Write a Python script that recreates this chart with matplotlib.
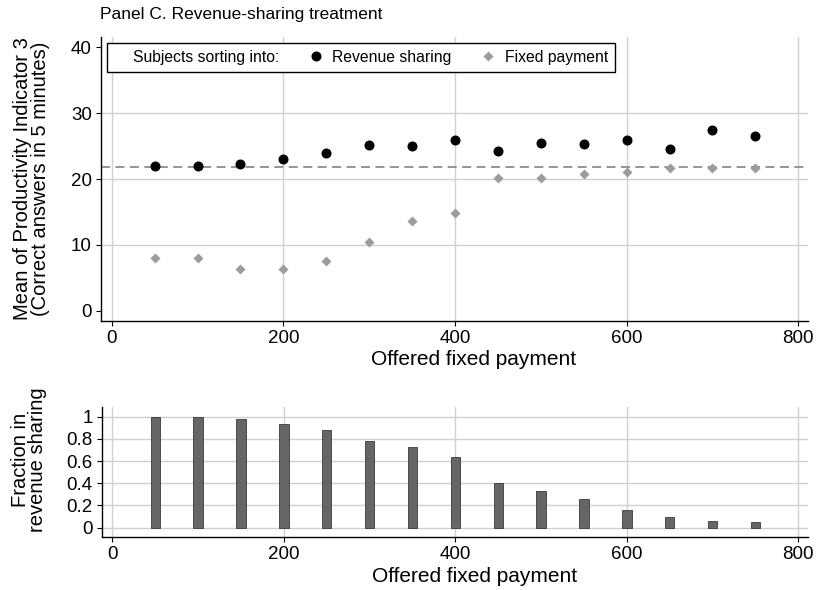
import numpy as np
import matplotlib
matplotlib.use("Agg")
import matplotlib.pyplot as plt
from matplotlib.lines import Line2D
from matplotlib.ticker import FormatStrFormatter

plt.rcParams['font.family'] = ['Liberation Sans', 'DejaVu Sans']

# offered fixed payment levels
offers = np.arange(50, 800, 50)

# mean productivity (correct answers in 5 minutes)
prod_revenue = [22.0, 22.0, 22.3, 23.1, 23.9, 25.2, 25.0, 25.9, 24.3, 25.4, 25.3, 26.0, 24.6, 27.5, 26.6]
prod_fixed = [8.0, 8.0, 6.3, 6.3, 7.6, 10.5, 13.6, 14.9, 20.2, 20.1, 20.7, 21.1, 21.6, 21.6, 21.7]
overall_mean = 21.9

# fraction choosing revenue sharing
frac_revenue = [1.0, 1.0, 0.98, 0.93, 0.88, 0.78, 0.73, 0.64, 0.40, 0.33, 0.26, 0.16, 0.10, 0.06, 0.05]

grid_col = '#d0d0d0'
fs_tick = 13.5
fs_label = 15

fig = plt.figure(figsize=(8.17, 5.90), dpi=100)
ax1 = fig.add_axes([0.1236, 0.4564, 0.8657, 0.4814])
ax2 = fig.add_axes([0.1245, 0.0893, 0.8648, 0.2214])

# --- top panel
ax1.axhline(overall_mean, color='#8c8c8c', lw=1.3, dashes=(5, 3), zorder=2)
ax1.plot(offers, prod_revenue, 'o', color='black', ms=6.2, zorder=3, label='Revenue sharing')
ax1.plot(offers, prod_fixed, 'D', color='#9c9c9c', ms=5.0, mec='none', zorder=3, label='Fixed payment')
ax1.set_xlim(-12.5, 811.6)
ax1.set_ylim(-1.5, 41.6)
ax1.set_yticks([0, 10, 20, 30, 40])
ax1.set_xticks([0, 200, 400, 600, 800])
for v in [10, 20, 30]:
    ax1.axhline(v, color=grid_col, lw=1, zorder=1)
for v in [0, 200, 400, 600, 800]:
    ax1.axvline(v, color=grid_col, lw=1, zorder=1)
ax1.set_xlabel('Offered fixed payment', fontsize=fs_label)
ax1.xaxis.set_label_coords(0.527, -0.103)
ax1.set_ylabel('Mean of Productivity Indicator 3\n(Correct answers in 5 minutes)',
               fontsize=14.5, linespacing=0.92)
ax1.yaxis.set_label_coords(-0.072, 0.5)

blank = Line2D([], [], linestyle='none')
h_rev = Line2D([], [], marker='o', color='black', ms=6.2, linestyle='none')
h_fix = Line2D([], [], marker='D', color='#9c9c9c', ms=5.0, mec='none', linestyle='none')
leg = ax1.legend([blank, h_rev, h_fix], ['Subjects sorting into:', 'Revenue sharing', 'Fixed payment'],
                 ncol=3, loc='upper left', bbox_to_anchor=(0.008, 0.979), borderaxespad=0,
                 fontsize=11.3, handlelength=0.3, handletextpad=0.9, columnspacing=2.2,
                 borderpad=0.45, fancybox=False, framealpha=1, edgecolor='black')
leg.get_frame().set_linewidth(1.0)
leg.set_zorder(5)

# --- bottom panel
ax2.bar(offers, frac_revenue, width=11, color='#666666', edgecolor='#3a3a3a', linewidth=0.6, zorder=3)
ax2.set_xlim(-12.5, 811.6)
ax2.set_ylim(-0.087, 1.09)
ax2.set_xticks([0, 200, 400, 600, 800])
ax2.set_yticks([0, 0.2, 0.4, 0.6, 0.8, 1.0])
ax2.yaxis.set_major_formatter(FormatStrFormatter('%g'))
for v in [0, 0.2, 0.4, 0.6, 0.8, 1.0]:
    ax2.axhline(v, color=grid_col, lw=1, zorder=1)
for v in [0, 200, 400, 600, 800]:
    ax2.axvline(v, color=grid_col, lw=1, zorder=1)
ax2.set_xlabel('Offered fixed payment', fontsize=fs_label)
ax2.xaxis.set_label_coords(0.527, -0.227)
ax2.set_ylabel('Fraction in\nrevenue sharing', fontsize=14.5, linespacing=0.92)
ax2.yaxis.set_label_coords(-0.077, 0.592)

for ax in (ax1, ax2):
    ax.spines['top'].set_visible(False)
    ax.spines['right'].set_visible(False)
    ax.spines['left'].set_linewidth(1.0)
    ax.spines['bottom'].set_linewidth(1.0)
    ax.tick_params(direction='out', length=3.6, width=0.8, labelsize=fs_tick, pad=3)

fig.text(0.1224, 1 - 15 / 590, 'Panel C. Revenue-sharing treatment', fontsize=12.5, va='center', ha='left')

fig.savefig('out.png', dpi=100)
